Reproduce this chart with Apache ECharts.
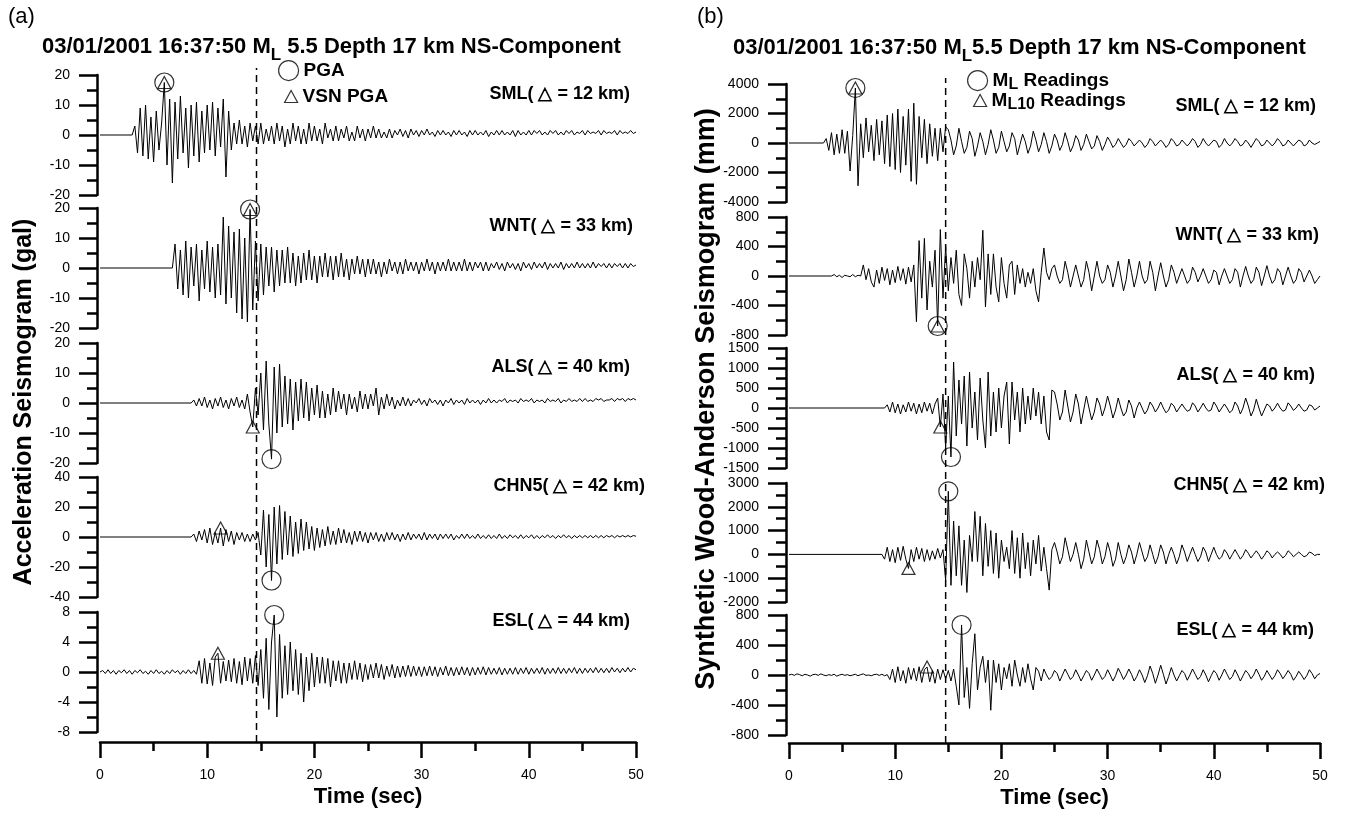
<!DOCTYPE html>
<html><head><meta charset="utf-8">
<script src="https://cdn.jsdelivr.net/npm/echarts@6/dist/echarts.min.js"></script>
<style>html,body{margin:0;padding:0;background:#fff}#c{width:1346px;height:817px}</style>
</head><body><div id="c"></div>
<script>
// ---------------- DATA ----------------
const DT = 0.25; // sample step (s)
const stations = ['SML', 'WNT', 'ALS', 'CHN5', 'ESL'];
const distances = [12, 33, 40, 42, 44];

// (a) acceleration seismograms (gal), samples every DT from start time
const accStart = [3.0, 6.75, 8.5, 8.5, 0];
const accSML = [0,3,-6,9, -7,10,-8,6, -9,8,-5,4, 17.5,-10,12,-16, 11,-8,13,-6, 9,-11,10,-7, 11,-9,8,-6, 10,-5,11,-7, 9,-4,12,-14, 8,-5,4,-3, 5,-3,3,-4, 4,-2,3,-3, 4,-3,2,-2, 3,-3,4,-2, 3,-4,2,-3, 4,-2,3,-3, 2,-3,4,-2, 3,-2,2,-3, 4,-1,2,-2, 3,-2,2,-1, 3,-2,1,-2, 3,-1,2,-2, 2,-1,3,-1, 2,-1,1,-1, 2,-1,1.5,0, 2,-0.5,1.5,-1, 2,0,1.5,-0.5, 1.5,0,2,0, 1,-0.5,1.5,0, 1.5,0,1,-0.5, 1.5,0,1.5,0, 1,-0.5,1.5,0, 1.5,0,1,0, 1.5,-0.5,1,0, 1.5,0,1.5,0, 1,0,1.5,-0.5, 1.5,0,1,0, 1.5,0,1.5,0.5, 1.5,0,1,0, 1.5,0.5,1.5,0, 1,0,1.5,0.5, 1.5,0,1,0.5, 1.5,0,1.5,0.5, 1,0.5,1.5,0, 1.5,0.5,1,0.5, 1.5,0,1.5,0.5, 1,0.5,1.5,0.5, 1];
const accWNT = [0, 8,-7,6,-9, 9,-10,7,-6, 8,-11,6,-7, 9,-8,7,-10, 8,-9,17,-12, 14,-10,12,-15, 13,-17,10,-18, 19.5,-14,9,-11, 8,-9,7,-6, 7,-8,6,-6, 6,-5,7,-5, 5,-6,4,-5, 5,-4,6,-4, 4,-5,4,-3, 5,-3,4,-4, 4,-3,5,-3, 3,-4,3,-2, 4,-2,3,-3, 3,-2,3,-2, 2,-3,2,-2, 3,-1,2,-2, 2,-2,3,-1, 2,-1,2,-2, 2,-1,3,-1, 2,-2,2,-1, 2,-1,3,-1, 2,-1,2,-1, 3,-1,2,-1, 2,0,2,-1, 2,-1,1.5,0, 2,-0.5,1.5,-1, 2,0,1.5,-0.5, 1.5,-1,2,0, 1.5,-0.5,2,0, 1.5,0,2,-0.5, 1.5,0,1.5,0, 2,-0.5,1.5,0, 1.5,0,2,0, 1.5,0,1.5,0, 2,0,1.5,0.5, 1.5,0,1.5,0, 1.5,0.5,1.5,0, 1.5,0,1.5,0.5, 1];
const accALS = [0,1, -1,1.5,-1,2, -1.5,1,-2,1.5, -1,2,-1.5,1, -2,1.5,-1,2, -1.5,1,-2,3, -3,-8,5,-4, 10,-9,14,-7, -18.7,12,-10,13, -8,9,-7,8, -9,7,-6,8, -5,7,-6,5, -4,6,-5,4, -5,3,-4,5, -3,4,-2,3, -4,3,-2,2, -3,4,-2,3, -2,3,-1,5, -4,2,-2,3, -1,2,-2,1, -1,2,-1,1.5, -1,1,0,1.5, -0.5,1,-1,1.5, 0,1,-0.5,1, -1,1,0,1.5, -0.5,1,0,1, -0.5,1.5,0,1, 0,1,-0.5,1, 0,1.5,0,1, 0,1,0.5,1.5, 0,1,0.5,1, 0,1.5,0.5,1, 0.5,1.5,0,1, 0.5,1,0,1.5, 0.5,1,0.5,1.5, 0,1,0.5,1.5, 0.5,1,0.5,1.5, 0.5,1.5,0.5,1, 0.5,1.5,1,1.5, 0.5,1,1,1.5, 0.5,1.5,1,1.5, 0.5,1.5,1,1.5, 1];
const accCHN5 = [0,2, -3,4,-2,5, -4,6,-5,3, -4,6,-6,5, -3,4,-5,3, -2,3,-3,2, -3,2,-2,3, -12,18,-20,15, -29,20,-18,21, -15,17,-12,14, -13,10,-11,12, -9,10,-8,7, -9,6,-7,5, -6,7,-5,4, -5,6,-4,5, -4,3,-5,4, -3,4,-3,3, -4,3,-2,3, -3,2,-3,3, -2,3,-2,2, -3,2,-2,3, -2,2,-1,2, -2,3,-2,2, -1,2,-2,2, -1,2,-1,2, -2,1,-1,2, -1,2,-1,1, -1,2,-1,1, -1,1.5,-1,1, -1,2,-1,1, -1,1.5,-0.5,1, -1,1.5,-1,1, -0.5,1.5,-1,1, -1,1,-0.5,1.5, -0.5,1,-1,1, -0.5,1.5,-0.5,1, -1,1,-0.5,1, -0.5,1,-0.5,1, -0.5,1,-0.5,1, -0.5,1,0,1, -0.5,1,0,1, 0,1,0,1, 0.5];
const accESL = [0,0.2,-0.2,0.3, -0.2,0.2,-0.3,0.2, -0.1,0.3,-0.2,0.2, -0.3,0.2,-0.1,0.3, -0.2,0.1,-0.3,0.2, -0.2,0.3,-0.2,0.1, -0.3,0.2,-0.2,0.3, -0.1,0.2,-0.3,0.2, -0.2,0.3,-0.2,0.2, -0.3,1.5,-1.5,1.8, -1.6,1.2,-1.8,2, 2.5,-1.5,1.4,-1.2, 1.6,-1.3,1.8,-1.5, 1.4,-1.7,2,-1.2, 1.8,-1.5,2.2,-1.8, 3,-3.5,4.5,-5, 4,7.6,-6,5, -3.5,3.5,-3,4, -2.5,3,-3,2.5, -4,2,-2.5,2.5, -2,2,-1.5,2, -1.5,1.8,-2,1.5, -1.2,1.5,-1.5,1.2, -1.5,1.2,-1,1.5, -1,1.2,-1.3,1, -1,1,-0.8,1.2, -0.8,1,-1,0.8, -0.6,1,-0.8,0.8, -0.7,0.8,-0.6,0.9, -0.6,0.8,-0.5,0.7, -0.6,0.7,-0.5,0.8, -0.5,0.7,-0.6,0.6, -0.4,0.8,-0.5,0.6, -0.5,0.6,-0.4,0.7, -0.4,0.6,-0.5,0.6, -0.4,0.6,-0.3,0.7, -0.4,0.6,-0.3,0.5, -0.3,0.6,-0.4,0.5, -0.3,0.5,-0.3,0.6, -0.3,0.5,-0.2,0.6, -0.3,0.5,-0.2,0.5, -0.2,0.6,-0.3,0.5, -0.2,0.5,-0.2,0.6, -0.2,0.5,-0.2,0.5, -0.1,0.6,-0.2,0.5, -0.2,0.5,-0.1,0.5, -0.1,0.6,-0.1,0.5, -0.1,0.5,-0.1,0.6, 0,0.5,-0.1,0.5, 0,0.6,0,0.5, 0.3];

// (b) synthetic Wood-Anderson seismograms (mm)
const waStart = [3.25, 4, 9, 8.75, 0];
const waSML = [0,300,-500, 700,-800,600,-700, 900,-700,800,-1900, 500,3730,-2900,1300, -1000,1700,-600,1200, -1200,1600,-800,1500, -1400,1900,-1600,2000, -1800,2300,-2000,1800, -1500,2300,-2600,2700, -2800,1800,-1000,1600, -1400,1300,-900,1000, -1200,1000,-600,1100, 900,200,-800,-200, 1000,100,-700,-300, 800,300,-900,-200, 700,100,-800,-100, 900,200,-700,-300, 800,100,-600,-200, 700,300,-800,-100, 600,100,-700,-200, 800,200,-600,-100, 700,100,-700,-200, 600,200,-500,-100, 700,100,-600,-200, 500,200,-500,-100, 600,100,-400,-200, 500,100,-500,-100, 400,100,-300,-100, 300,0,-300,-100, 300,100,-200,0, 200,0,-300,-100, 300,100,-200,0, 200,0,-300,-100, 300,100,-200,-100, 200,0,-200,0, 300,100,-300,-100, 300,0,-200,0, 200,100,-300,-100, 300,0,-200,0, 300,100,-200,-100, 200,0,-300,0, 300,100,-200,-100, 200,0,-200,0, 300,100,-200,-100, 200,0,-200,0, 200,100,-200,-100, 200,0,-100,0, 100];
const waWNT = [0,20,-10,10, -20,10,0,-10, 20,-10,10,0, 150,-50,100,-80, -150,80,-100,120, -60,100,-120,80, -90,130,-60,100, -110,120,-80,150, -620,480,-300,510, -460,200,-150,350, -678,630,-300,400, -200,250,-100,350, -250,-400,300,100, -300,200,-150,250, -50,620,-420,300, -250,300,-150,-350, 250,-100,-300,150, 200,-250,150,-100, 100,-150,50,-100, 100,-200,-350,50, 380,50,-50,100, 150,0,-100,-50, 200,50,-150,0, 150,0,-150,-50, 200,50,-200,0, 200,0,-100,-50, 150,50,-150,0, 200,0,-200,-50, 230,50,-150,0, 200,0,-100,-50, 200,50,-200,0, 180,0,-150,-50, 150,50,-100,0, 100,0,-100,-50, 120,50,-80,0, 100,0,-100,-50, 80,50,-120,0, 100,0,-100,-50, 100,50,-150,0, 130,0,-100,-50, 120,50,-130,0, 140,0,-100,-50, 100,50,-120,0, 120,0,-100,-50, 100,50,-80,0, 80,0,-100,-50, 0];
const waALS = [0,80,-100,150, -120,100,-150,80, -100,150,-80,120, -150,100,-120,150, -80,120,-150,100, 250,-475,350,-1000, 300,-1225,1150,-700, 700,-400,800,-950, 900,-500,400,-800, 750,-300,-1000,900, -700,400,-600,500, -500,300,650,-900, 650,-300,400,-600, 500,-400,300,-300, 500,-200,400,-400, 300,-600,-800,450, 400,100,-300,-100, 450,50,-350,-100, 350,100,-400,-50, 300,0,-300,-100, 250,100,-200,0, 300,50,-250,-50, 250,0,-200,-100, 200,50,-250,0, 150,0,-150,-50, 150,50,-100,0, 150,0,-120,-50, 120,50,-100,0, 100,0,-80,-50, 130,50,-100,0, 120,0,-80,-50, 150,50,-100,0, 100,0,-120,-50, 150,50,-150,0, 250,50,-200,-50, 220,0,-200,-50, 100,50,-80,0, 120,0,-80,-50, 130,50,-60,0, 100,0,-80,-50, 80,50,-50,0, 50];
const waCHN5 = [0, -200,300,-300,200, -350,300,-250,340, -200,-590,200,-300, 300,-200,250,-300, 200,-250,150,-200, 250,-150,200,-1100, 2650,-1300,1400,-900, 1200,-1300,600,-1600, 800,-300,1800,-300, 1600,-900,1300,-500, 1000,-800,900,-1000, 600,-300,300,-600, 1000,-800,700,-1000, 900,-600,500,-900, 600,-400,800,-700, 300,-600,-1500,200, 500,100,-400,-100, 700,200,-300,0, 500,0,-600,-200, 600,100,-400,-100, 600,200,-400,-100, 500,100,-500,-200, 500,0,-400,-100, 400,100,-400,0, 500,100,-300,-100, 400,0,-400,-100, 400,100,-400,0, 300,0,-400,-100, 400,100,-300,0, 300,0,-300,-100, 300,100,-300,0, 300,0,-200,-100, 200,50,-200,0, 200,0,-200,-50, 200,50,-150,0, 150,0,-200,-50, 150,50,-150,0, 100,0,-150,-50, 150,50,-100,0, 100,0,-100,-50, 100,50,-50,0, 0];
const waESL = [0,10,-5,15, 5,-10,10,0, -15,5,10,-5, 15,0,-10,5, -5,10,-15,0, 10,-5,5,-10, 0,10,-10,5, 15,-5,0,-10, 5,10,-5,10, -10,5,-60,80, -100,110,-80,60, -110,100,-60,90, -80,110,-100,70, 107,-90,60,-110, 80,-60,70,-50, 60,-80,80,-150, -400,667,-300,100, -445,150,550,-200, 100,250,-100,200, -470,200,-100,150, -200,100,-50,150, -150,200,0,-150, 100,-100,150,-50, -200,100,50,-80, 80,0,-60,-20, 60,20,-80,0, 80,10,-60,-20, 70,0,-80,-10, 60,20,-70,0, 80,10,-60,-20, 70,0,-80,-10, 90,20,-60,0, 80,10,-80,-20, 70,0,-100,-10, 120,20,-110,0, 130,10,-120,-20, 100,0,-80,-10, 60,20,-70,0, 80,10,-60,-20, 70,0,-90,-10, 60,20,-70,0, 80,10,-60,-20, 70,0,-80,-10, 60,20,-50,0, 80,10,-70,-20, 60,0,-60,-10, 70,20,-50,0, 60,10,-70,-20, 50,0,-60,-10, 70,20,-50,0, 20];

// peak readings (time s, value)
const pgaT = [6.0, 14.0, 16.0, 16.0, 16.25];
const pgaV = [17.5, 19.5, -18.7, -29, 7.6];
const vsnT = [6.0, 14.0, 14.25, 11.25, 11.0];
const vsnV = [17.5, 19.5, -8, 6, 2.5];
const mlT = [6.25, 14.0, 15.25, 15.0, 16.25];
const mlV = [3730, -678, -1225, 2650, 667];
const ml10T = [6.25, 14.0, 14.25, 11.25, 13.0];
const ml10V = [3730, -678, -475, -590, 107];

// dashed reference time (s) in each panel
const dashTimes = [14.6, 14.75];

// axis ranges / tick steps
const accMin = [-20, -20, -20, -40, -8], accMax = [20, 20, 20, 40, 8], accStep = [10, 10, 10, 20, 4];
const waMin = [-4000, -800, -1500, -2000, -800], waMax = [4000, 800, 1500, 3000, 800], waStep = [2000, 400, 500, 1000, 400];
const timeMin = 0, timeMax = 50, timeStep = 10;

// ---------------- LAYOUT ----------------
const FONT = '"Liberation Sans", Arial, Helvetica, sans-serif';
const layoutA = { left: 100, width: 536, rows: [[75,120],[208,120],[343,120],[477,120],[612,120]], xOffset: 10, dash: [68, 674],
  labels: [[630,94],[633,226],[630,367],[645,486],[630,621]] };
const layoutB = { left: 789, width: 531, rows: [[84,118],[217,118],[348,120],[483,119],[615,120]], xOffset: 8, dash: [78, 665],
  labels: [[1316,106],[1319,235],[1315,375],[1325,485],[1314,630]] };

function trace(start, vals) {
  const pts = [];
  if (start > 0) pts.push([0, 0]);
  for (let i = 0; i < vals.length; i++) pts.push([start + i * DT, vals[i]]);
  return pts;
}

const grid = [], xAxis = [], yAxis = [], series = [], graphic = [];
const black = '#000';
const markStyle = { color: 'rgba(0,0,0,0)', borderColor: black, borderWidth: 1.2 };
const plain = v => String(v);

function addPanel(L, starts, traces, yMin, yMax, yStep, cT, cV, tT, tV, cName, tName, dashT) {
  for (let i = 0; i < 5; i++) {
    const gi = grid.length;
    grid.push({ left: L.left, width: L.width, top: L.rows[i][0], height: L.rows[i][1], containLabel: false, outerBoundsMode: 'none' });
    const last = i === 4;
    xAxis.push({
      gridIndex: gi, type: 'value', min: timeMin, max: timeMax, interval: timeStep, show: last, offset: L.xOffset,
      axisLine: { show: true, onZero: false, lineStyle: { color: black, width: 2.5 } },
      axisTick: { show: true, length: 16, lineStyle: { color: black, width: 2.5 } },
      minorTick: { show: true, splitNumber: 2, length: 9, lineStyle: { color: black, width: 2.5 } },
      axisLabel: { color: black, fontSize: 14, fontFamily: FONT, margin: 26, formatter: plain },
      splitLine: { show: false }, minorSplitLine: { show: false },
      name: last ? 'Time (sec)' : '', nameLocation: 'middle', nameGap: 44,
      nameTextStyle: { fontSize: 22, fontWeight: 'bold', color: black, fontFamily: FONT }
    });
    yAxis.push({
      gridIndex: gi, type: 'value', min: yMin[i], max: yMax[i], interval: yStep[i], offset: 3, position: 'left',
      axisLine: { show: true, onZero: false, lineStyle: { color: black, width: 2.5 } },
      axisTick: { show: true, length: 18, lineStyle: { color: black, width: 2.5 } },
      minorTick: { show: true, splitNumber: 2, length: 10, lineStyle: { color: black, width: 2.5 } },
      axisLabel: { color: black, fontSize: 14, fontFamily: FONT, margin: 27, showMinLabel: true, showMaxLabel: true, formatter: plain },
      splitLine: { show: false }, minorSplitLine: { show: false }
    });
    series.push({ type: 'line', xAxisIndex: gi, yAxisIndex: gi, data: trace(starts[i], traces[i]),
      showSymbol: false, symbol: 'none', lineStyle: { color: black, width: 1 }, silent: true, z: 2 });
    series.push({ name: cName, type: 'scatter', xAxisIndex: gi, yAxisIndex: gi, data: [[cT[i], cV[i]]],
      symbol: 'circle', symbolSize: 19, itemStyle: markStyle, z: 5, silent: true, clip: false });
    series.push({ name: tName, type: 'scatter', xAxisIndex: gi, yAxisIndex: gi, data: [[tT[i], tV[i]]],
      symbol: 'triangle', symbolSize: [13, 12], itemStyle: markStyle, z: 6, silent: true, clip: false });
    graphic.push({ type: 'text', x: L.labels[i][0], y: L.labels[i][1], z: 10,
      style: { text: stations[i] + '( \u25B3 = ' + distances[i] + ' km)', fill: black,
        font: 'bold 18px ' + FONT, textAlign: 'right', textVerticalAlign: 'middle', align: 'right', verticalAlign: 'middle' } });
  }
  const gi = grid.length;
  grid.push({ left: L.left, width: L.width, top: L.dash[0], height: L.dash[1], containLabel: false, outerBoundsMode: 'none' });
  xAxis.push({ gridIndex: gi, type: 'value', min: timeMin, max: timeMax, show: false });
  yAxis.push({ gridIndex: gi, type: 'value', min: 0, max: 1, show: false });
  series.push({ type: 'line', xAxisIndex: gi, yAxisIndex: gi, data: [[dashT, 0], [dashT, 1]], symbol: 'none', showSymbol: false,
    lineStyle: { color: black, width: 1.5, type: [7, 5] }, silent: true, z: 1 });
}

addPanel(layoutA, accStart, [accSML, accWNT, accALS, accCHN5, accESL], accMin, accMax, accStep,
  pgaT, pgaV, vsnT, vsnV, 'PGA', 'VSN PGA', dashTimes[0]);
addPanel(layoutB, waStart, [waSML, waWNT, waALS, waCHN5, waESL], waMin, waMax, waStep,
  mlT, mlV, ml10T, ml10V, 'ML Readings', 'ML10 Readings', dashTimes[1]);

// rotated y-axis titles
graphic.push({ type: 'text', x: 24, y: 402, rotation: Math.PI / 2,
  style: { text: 'Acceleration Seismogram (gal)', fill: black, font: 'bold 25px ' + FONT,
    textAlign: 'center', textVerticalAlign: 'middle', align: 'center', verticalAlign: 'middle' } });
graphic.push({ type: 'text', x: 707, y: 399, rotation: Math.PI / 2,
  style: { text: 'Synthetic Wood-Anderson Seismogram (mm)', fill: black, font: 'bold 27px ' + FONT,
    textAlign: 'center', textVerticalAlign: 'middle', align: 'center', verticalAlign: 'middle' } });

const titleRich = {
  m: { fontSize: 22, fontWeight: 'bold', fontFamily: FONT, color: black, lineHeight: 34 },
  s: { fontSize: 17, fontWeight: 'bold', fontFamily: FONT, color: black, verticalAlign: 'bottom' }
};
const legRich = {
  m: { fontSize: 19, fontWeight: 'bold', fontFamily: FONT, color: black, lineHeight: 24 },
  s: { fontSize: 16, fontWeight: 'bold', fontFamily: FONT, color: black, verticalAlign: 'bottom' }
};
const legBase = { padding: 0, selectedMode: false, orient: 'vertical', itemStyle: markStyle,
  textStyle: { fontSize: 19, fontWeight: 'bold', color: black, fontFamily: FONT, rich: legRich } };

const option = {
  animation: false,
  backgroundColor: '#fff',
  title: [
    { text: '(a)', left: 8, top: 6, padding: 0, textStyle: { fontSize: 22, fontWeight: 'normal', color: black, fontFamily: FONT } },
    { text: '(b)', left: 697, top: 6, padding: 0, textStyle: { fontSize: 22, fontWeight: 'normal', color: black, fontFamily: FONT } },
    { text: '{m|03/01/2001 16:37:50 M}{s|L}{m| 5.5 Depth 17 km NS-Component}', left: 42, top: 30, padding: 0, textStyle: { rich: titleRich } },
    { text: '{m|03/01/2001 16:37:50 M}{s|L}{m|5.5 Depth 17 km NS-Component}', left: 733, top: 31, padding: 0, textStyle: { rich: titleRich } }
  ],
  legend: [
    Object.assign({}, legBase, { data: ['PGA'], left: 278, top: 60, itemWidth: 20, itemHeight: 20 }),
    Object.assign({}, legBase, { data: ['VSN PGA'], left: 284, top: 87, itemWidth: 13, itemHeight: 12 }),
    Object.assign({}, legBase, { data: ['ML Readings'], left: 967, top: 70, itemWidth: 20, itemHeight: 20,
      formatter: () => '{m|M}{s|L} {m|Readings}' }),
    Object.assign({}, legBase, { data: ['ML10 Readings'], left: 973, top: 91, itemWidth: 13, itemHeight: 12,
      formatter: () => '{m|M}{s|L10} {m|Readings}' })
  ],
  grid, xAxis, yAxis, series, graphic
};

const chart = echarts.init(document.getElementById('c'), null, { renderer: 'canvas' });
chart.setOption(option);
</script>
</body></html>
